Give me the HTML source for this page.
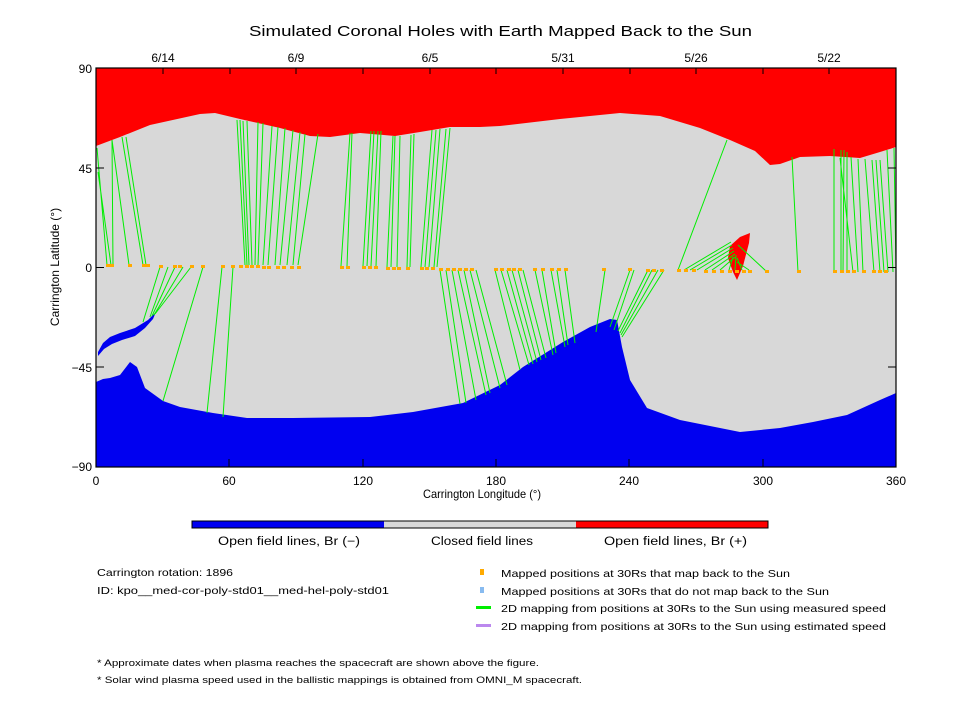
<!DOCTYPE html>
<html><head><meta charset="utf-8"><style>
body{margin:0;background:#fff;}
svg text{font-family:"Liberation Sans",sans-serif;fill:#000;}
</style></head><body>
<svg width="960" height="720" viewBox="0 0 960 720" xmlns="http://www.w3.org/2000/svg">
<rect width="960" height="720" fill="#fff"/>
<text x="249" y="36" font-size="15" textLength="503" lengthAdjust="spacingAndGlyphs">Simulated Coronal Holes with Earth Mapped Back to the Sun</text>
<rect x="96" y="68" width="800" height="399" fill="#d8d8d8"/>
<path fill="#ff0000" d="M96,68 L896,68 L896,147 L880,152 L860,158 L830,156 L800,157 L780,164 L770,165 L755,151 L730,140 L700,128 L660,116 L620,113 L560,119 L500,126 L480,127 L450,127 L420,132 L395,136 L360,133 L330,137 L310,136 L280,128 L240,119 L215,113 L200,114 L150,125 L120,137 L96,146 Z"/>
<path fill="#0000f0" d="M96,467 L96,382 L103,379 L110,378 L120,375 L130,362 L137,367 L145,388 L163,401 L180,407 L213,413 L247,418 L293,418 L370,417 L413,412 L463,403 L500,385 L523,367 L563,342 L590,327 L610,319 L617,320 L622,347 L630,380 L647,408 L680,420 L740,432 L780,428 L813,422 L847,415 L880,400 L896,393 L896,467 Z"/>
<path fill="#0000f0" d="M98,352 L103,343 L110,337 L120,333 L135,328 L148,320 L156,312 L153,319 L145,328 L135,336 L122,340 L112,344 L104,349 L98,356 Z"/>
<path fill="#ff0000" d="M750,233 L740,237 L730,246 L728,258 L733,272 L737,280 L743,266 L749,243 Z"/>
<g stroke="#00ee00" stroke-width="1" fill="none">
<path d="M107,265L97,148 M111,265L98,172 M113,265L112,140 M129,265L112,140 M143,265L122,137 M146,265L126,137
M245,265L237,120 M247,265L240,120 M249,265L243,121 M252,265L247,121 M255,265L258,122 M258,265L263,123 M263,265L272,126 M268,265L278,127 M275,265L285,128 M280,265L293,130 M287,265L300,132 M293,265L305,134 M298,265L318,134
M341,266L350,133 M347,266L352,133 M363,266L371,131 M367,266L374,131 M371,266L378,131 M376,266L381,131 M387,267L393,136 M391,267L395,136 M397,267L400,136 M407,267L411,135 M410,267L414,134 M421,267L432,130 M425,267L436,130 M429,267L440,129 M434,267L446,129 M437,267L450,128
M798,272L792,157 M834,272L834,149 M841,272L841,150 M843,272L844,150 M847,272L847,152 M853,272L840,158 M858,272L851,157 M863,272L858,159 M874,272L865,159 M880,272L872,160 M884,272L876,160 M888,272L880,160 M893,272L887,150 M896,270L894,148
M678,270L727,140 M684,270L731,242 M690,270L732,245 M697,270L733,248 M705,270L734,251 M712,270L735,254 M720,270L735,257 M729,270L733,257 M735,270L736,255 M742,270L737,258 M749,270L737,262 M766,271L738,245
M160,267L143,322 M168,267L150,317 M175,267L152,316 M183,267L154,315 M191,267L155,314 M203,267L163,401 M222,267L207,413 M233,267L223,417
M440,270L460,404 M446,270L466,403 M452,270L476,400 M458,270L486,395 M464,270L490,393 M470,270L500,388 M476,270L507,385
M495,270L520,370 M501,270L529,365 M507,270L533,364 M512,270L537,362 M518,270L541,360 M523,270L546,358 M535,270L553,355 M542,270L556,353 M551,270L565,347 M557,270L568,345 M565,270L575,343 M605,270L596,332
M630,270L610,327 M634,270L614,330 M648,270L618,331 M652,270L620,333 M658,270L621,335 M664,270L622,337"/>
</g>
<g fill="#ffaa00">
<rect x="106" y="264" width="4" height="3"/><rect x="110" y="264" width="4" height="3"/><rect x="128" y="264" width="4" height="3"/><rect x="142" y="264" width="4" height="3"/><rect x="146" y="264" width="4" height="3"/><rect x="159" y="265" width="4" height="3"/><rect x="173" y="265" width="4" height="3"/><rect x="178" y="265" width="4" height="3"/><rect x="190" y="265" width="4" height="3"/><rect x="201" y="265" width="4" height="3"/><rect x="221" y="265" width="4" height="3"/><rect x="231" y="265" width="4" height="3"/><rect x="239" y="265" width="4" height="3"/>
<rect x="245" y="265" width="4" height="3"/><rect x="250" y="265" width="4" height="3"/><rect x="256" y="265" width="4" height="3"/><rect x="262" y="266" width="4" height="3"/><rect x="267" y="266" width="4" height="3"/><rect x="276" y="266" width="4" height="3"/><rect x="282" y="266" width="4" height="3"/><rect x="290" y="266" width="4" height="3"/><rect x="297" y="266" width="4" height="3"/>
<rect x="340" y="266" width="4" height="3"/><rect x="346" y="266" width="4" height="3"/><rect x="362" y="266" width="4" height="3"/><rect x="368" y="266" width="4" height="3"/><rect x="374" y="266" width="4" height="3"/><rect x="386" y="267" width="4" height="3"/><rect x="392" y="267" width="4" height="3"/><rect x="397" y="267" width="4" height="3"/><rect x="406" y="267" width="4" height="3"/><rect x="420" y="267" width="4" height="3"/><rect x="425" y="267" width="4" height="3"/><rect x="431" y="267" width="4" height="3"/>
<rect x="439" y="268" width="4" height="3"/><rect x="446" y="268" width="4" height="3"/><rect x="452" y="268" width="4" height="3"/><rect x="458" y="268" width="4" height="3"/><rect x="464" y="268" width="4" height="3"/><rect x="470" y="268" width="4" height="3"/><rect x="494" y="268" width="4" height="3"/><rect x="500" y="268" width="4" height="3"/><rect x="507" y="268" width="4" height="3"/><rect x="512" y="268" width="4" height="3"/><rect x="518" y="268" width="4" height="3"/><rect x="533" y="268" width="4" height="3"/><rect x="541" y="268" width="4" height="3"/><rect x="550" y="268" width="4" height="3"/><rect x="557" y="268" width="4" height="3"/><rect x="564" y="268" width="4" height="3"/><rect x="602" y="268" width="4" height="3"/><rect x="628" y="268" width="4" height="3"/><rect x="646" y="269" width="4" height="3"/><rect x="652" y="269" width="4" height="3"/><rect x="660" y="269" width="4" height="3"/>
<rect x="677" y="269" width="4" height="3"/><rect x="684" y="269" width="4" height="3"/><rect x="692" y="269" width="4" height="3"/><rect x="704" y="270" width="4" height="3"/><rect x="712" y="270" width="4" height="3"/><rect x="720" y="270" width="4" height="3"/><rect x="728" y="270" width="4" height="3"/><rect x="735" y="270" width="4" height="3"/><rect x="742" y="270" width="4" height="3"/><rect x="748" y="270" width="4" height="3"/><rect x="765" y="270" width="4" height="3"/><rect x="797" y="270" width="4" height="3"/>
<rect x="833" y="270" width="4" height="3"/><rect x="840" y="270" width="4" height="3"/><rect x="846" y="270" width="4" height="3"/><rect x="852" y="270" width="4" height="3"/><rect x="862" y="270" width="4" height="3"/><rect x="872" y="270" width="4" height="3"/><rect x="878" y="270" width="4" height="3"/><rect x="884" y="270" width="4" height="3"/>
</g>
<rect x="96" y="68" width="800" height="399" fill="none" stroke="#000" stroke-width="1.2"/>
<g stroke="#000" stroke-width="1">
<path d="M96,168h8 M96,267.5h8 M96,367h8 M896,168h-8 M896,267.5h-8 M896,367h-8
M229,467v-8 M363,467v-8 M496,467v-8 M629,467v-8 M763,467v-8
M163,68v6 M230,68v6 M296,68v6 M363,68v6 M430,68v6 M496,68v6 M563,68v6 M630,68v6 M696,68v6 M763,68v6 M829,68v6"/>
</g>
<g font-size="12" text-anchor="end">
<text x="92" y="73">90</text><text x="92" y="173">45</text><text x="92" y="272">0</text><text x="92" y="372">−45</text><text x="92" y="471">−90</text>
</g>
<g font-size="12" text-anchor="middle">
<text x="96" y="485">0</text><text x="229" y="485">60</text><text x="363" y="485">120</text><text x="496" y="485">180</text><text x="629" y="485">240</text><text x="763" y="485">300</text><text x="896" y="485">360</text>
<text x="163" y="62">6/14</text><text x="296" y="62">6/9</text><text x="430" y="62">6/5</text><text x="563" y="62">5/31</text><text x="696" y="62">5/26</text><text x="829" y="62">5/22</text>
</g>
<text x="423" y="498" font-size="12" textLength="118" lengthAdjust="spacingAndGlyphs">Carrington Longitude (°)</text>
<text transform="translate(59,267) rotate(-90)" font-size="12" text-anchor="middle">Carrington Latitude (°)</text>
<rect x="192" y="521" width="192" height="7" fill="#0000f0"/>
<rect x="384" y="521" width="192" height="7" fill="#d8d8d8"/>
<rect x="576" y="521" width="192" height="7" fill="#ff0000"/>
<rect x="192" y="521" width="576" height="7" fill="none" stroke="#000" stroke-width="1"/>
<g font-size="11.5">
<text x="218" y="545" textLength="142" lengthAdjust="spacingAndGlyphs">Open field lines, Br (−)</text>
<text x="431" y="545" textLength="102" lengthAdjust="spacingAndGlyphs">Closed field lines</text>
<text x="604" y="545" textLength="143" lengthAdjust="spacingAndGlyphs">Open field lines, Br (+)</text>
</g>
<g font-size="10.5">
<text x="97" y="576" textLength="136" lengthAdjust="spacingAndGlyphs">Carrington rotation: 1896</text>
<text x="97" y="594" textLength="292" lengthAdjust="spacingAndGlyphs">ID: kpo__med-cor-poly-std01__med-hel-poly-std01</text>
<text x="501" y="577" textLength="289" lengthAdjust="spacingAndGlyphs">Mapped positions at 30Rs that map back to the Sun</text>
<text x="501" y="595" textLength="328" lengthAdjust="spacingAndGlyphs">Mapped positions at 30Rs that do not map back to the Sun</text>
<text x="501" y="612" textLength="385" lengthAdjust="spacingAndGlyphs">2D mapping from positions at 30Rs to the Sun using measured speed</text>
<text x="501" y="630" textLength="385" lengthAdjust="spacingAndGlyphs">2D mapping from positions at 30Rs to the Sun using estimated speed</text>
<text x="97" y="666" font-size="9.5" textLength="442" lengthAdjust="spacingAndGlyphs">* Approximate dates when plasma reaches the spacecraft are shown above the figure.</text>
<text x="97" y="683" font-size="9.5" textLength="485" lengthAdjust="spacingAndGlyphs">* Solar wind plasma speed used in the ballistic mappings is obtained from OMNI_M spacecraft.</text>
</g>
<rect x="480" y="569" width="4" height="6" fill="#ffaa00"/>
<rect x="480" y="587" width="4" height="6" fill="#88bbf0"/>
<rect x="476" y="606" width="15" height="3" fill="#00ee00"/>
<rect x="476" y="624" width="15" height="3" fill="#bb88ee"/>
</svg>
</body></html>
